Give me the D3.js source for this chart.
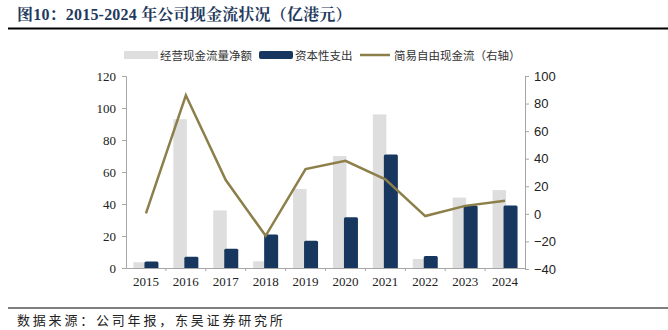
<!DOCTYPE html>
<html><head><meta charset="utf-8">
<script src="https://cdn.jsdelivr.net/npm/d3@7"></script>
<style>
html,body{margin:0;padding:0;background:#fff;}
svg{display:block;}
</style></head>
<body>
<svg id="c" width="668" height="330"></svg>
<script>
const years = ["2015","2016","2017","2018","2019","2020","2021","2022","2023","2024"];
const ocf = [3.6, 93, 36, 4.2, 49.4, 70, 96, 5.6, 44, 48.7];
const capex = [4, 7, 12, 21, 17, 31.7, 71, 7.5, 39, 39];
const fcf = [0.3, 86, 24.5, -15.9, 32.5, 38.5, 25, -1.6, 5.8, 9.5];
const leftTicks = [0, 20, 40, 60, 80, 100, 120];
const rightTicks = [-40, -20, 0, 20, 40, 60, 80, 100];
const seriesNames = ["经营现金流量净额", "资本性支出", "简易自由现金流（右轴）"];
const titleText = "图10：2015-2024 年公司现金流状况（亿港元）";
const sourceText = "数据来源：公司年报，东吴证券研究所";

const colGrey = "#dedede", colNavy = "#17375e", colLine = "#8c7f4a", colAxis = "#a6a6a6";
const serif = "'Liberation Serif','Times New Roman','Noto Serif CJK SC','Noto Sans CJK SC',serif";
const sans = "'Liberation Sans',Arial,'Noto Sans CJK SC',sans-serif";
const cjk = "'Noto Sans CJK SC',sans-serif";

const svg = d3.select("#c");
const x0 = 126, x1 = 525, yTop = 76, yBot = 268;
const x = d3.scaleBand().domain(years).range([x0, x1]);
const yL = d3.scaleLinear().domain([0, 120]).range([yBot, yTop]);
const yR = d3.scaleLinear().domain([-40, 100]).range([269, 76]);

// title
svg.append("text").attr("x", 17).attr("y", 20).attr("fill", "#1f3a5e")
  .attr("font-family", "'Liberation Serif','Noto Serif CJK SC','Noto Sans CJK SC',serif")
  .attr("font-weight", "bold").attr("font-size", 16).attr("letter-spacing", 0.2).text(titleText);
svg.append("line").attr("x1", 8).attr("x2", 668).attr("y1", 28.5).attr("y2", 28.5)
  .attr("stroke", "#000").attr("stroke-width", 1.8);

// legend
const lg = svg.append("g").attr("font-family", cjk).attr("font-size", 11.5).attr("fill", "#333");
lg.append("rect").attr("x", 124).attr("y", 51).attr("width", 34).attr("height", 8).attr("fill", colGrey);
lg.append("text").attr("x", 160).attr("y", 59.5).text(seriesNames[0]);
lg.append("rect").attr("x", 259).attr("y", 51).attr("width", 34).attr("height", 8).attr("rx", 2).attr("fill", colNavy);
lg.append("text").attr("x", 295).attr("y", 59.5).text(seriesNames[1]);
lg.append("line").attr("x1", 360).attr("x2", 390).attr("y1", 55).attr("y2", 55).attr("stroke", colLine).attr("stroke-width", 2.5);
lg.append("text").attr("x", 394).attr("y", 59.5).text(seriesNames[2]);

// bars
const bw = 13.5;
svg.append("g").selectAll("rect").data(years).join("rect")
  .attr("x", (d) => x(d) + x.bandwidth()/2 - 12.5)
  .attr("width", bw)
  .attr("y", (d, i) => yL(ocf[i]))
  .attr("height", (d, i) => yL(0) - yL(ocf[i]))
  .attr("fill", colGrey);
svg.append("g").selectAll("rect").data(years).join("rect")
  .attr("x", (d) => x(d) + x.bandwidth()/2 - 1.5)
  .attr("width", bw + 0.5)
  .attr("y", (d, i) => yL(capex[i]))
  .attr("height", (d, i) => yL(0) - yL(capex[i]) + 1)
  .attr("rx", 1.5)
  .attr("fill", colNavy);

// axes
const axL = svg.append("g").attr("transform", `translate(${x0},0)`)
  .call(d3.axisLeft(yL).tickValues(leftTicks).tickSize(4).tickPadding(6));
axL.select(".domain").attr("stroke", colAxis);
axL.selectAll(".tick line").attr("stroke", colAxis);
axL.selectAll(".tick text").attr("font-family", serif).attr("font-size", 13).attr("fill", "#222");

const axR = svg.append("g").attr("transform", `translate(${x1},0)`)
  .call(d3.axisRight(yR).tickValues(rightTicks).tickSize(4).tickPadding(5));
axR.select(".domain").attr("stroke", colAxis);
axR.selectAll(".tick line").attr("stroke", colAxis);
axR.selectAll(".tick text").attr("font-family", sans).attr("font-size", 13).attr("fill", "#222");

const axB = svg.append("g").attr("transform", `translate(0,${yBot})`)
  .call(d3.axisBottom(x).tickSize(0).tickPadding(9));
axB.select(".domain").attr("stroke", colAxis);
axB.selectAll(".tick text").attr("font-family", serif).attr("font-size", 13).attr("fill", "#222");
// boundary ticks
svg.append("g").selectAll("line").data(years.slice(1)).join("line")
  .attr("x1", (d) => x(d)).attr("x2", (d) => x(d))
  .attr("y1", yBot).attr("y2", yBot + 3).attr("stroke", colAxis);

// line
const line = d3.line().x((d, i) => x(years[i]) + x.bandwidth()/2).y((d) => yR(d));
svg.append("path").datum(fcf).attr("d", line).attr("fill", "none")
  .attr("stroke", colLine).attr("stroke-width", 2.5).attr("stroke-linejoin", "miter");

// footer
svg.append("line").attr("x1", 8).attr("x2", 668).attr("y1", 308).attr("y2", 308)
  .attr("stroke", "#000").attr("stroke-width", 1.2);
svg.append("text").attr("x", 17).attr("y", 325).attr("font-family", cjk).attr("font-size", 13)
  .attr("letter-spacing", 2.8).attr("fill", "#222").text(sourceText);
</script>
</body></html>
